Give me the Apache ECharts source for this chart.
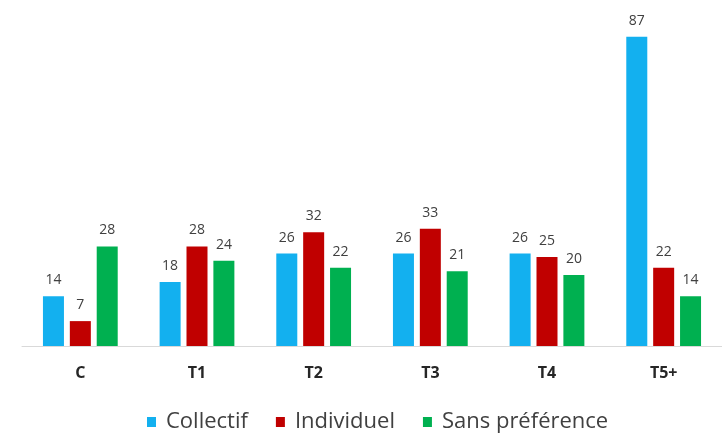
<!DOCTYPE html>
<html>
<head>
<meta charset="utf-8">
<script src="https://cdn.jsdelivr.net/npm/echarts@6/dist/echarts.min.js"></script>
<style>
  html, body { margin: 0; padding: 0; background: #fff; }
  #chart { width: 722px; height: 433px; }
</style>
</head>
<body>
<div id="chart"></div>
<script>
const categories = ['C', 'T1', 'T2', 'T3', 'T4', 'T5+']
const collectif = [14, 18, 26, 26, 26, 87]
const individuel = [7, 28, 32, 33, 25, 22]
const sansPreference = [28, 24, 22, 21, 20, 14]

const chart = echarts.init(document.getElementById('chart'))

const labelStyle = {
  show: true,
  position: 'top',
  distance: 9,
  color: '#404040',
  fontSize: 14,
  fontFamily: 'Open Sans'
}

const makeSeries = (name, data, color) => ({
  name,
  type: 'bar',
  data,
  barWidth: 21,
  barGap: '28%',
  itemStyle: { color },
  label: labelStyle
})

chart.setOption({
  animation: false,
  textStyle: { fontFamily: 'Open Sans' },
  legend: {
    top: 406,
    left: 142,
    itemWidth: 9,
    itemHeight: 10,
    itemGap: 28,
    icon: 'rect',
    textStyle: {
      fontSize: 22,
      color: '#404040',
      fontFamily: 'Open Sans',
      padding: [0, 0, 0, 5]
    },
    data: ['Collectif', 'Individuel', 'Sans préférence']
  },
  grid: {
    left: 22,
    width: 708,
    top: 26,
    bottom: 87
  },
  xAxis: {
    type: 'category',
    data: categories,
    axisLine: { lineStyle: { color: '#d9d9d9', width: 1 } },
    axisTick: { show: false },
    axisLabel: {
      margin: 19,
      fontSize: 16,
      fontWeight: 'bold',
      color: '#262626'
    }
  },
  yAxis: {
    type: 'value',
    min: 0,
    max: 90,
    show: false,
    splitLine: { show: false }
  },
  series: [
    makeSeries('Collectif', collectif, '#13B0EF'),
    makeSeries('Individuel', individuel, '#C00000'),
    makeSeries('Sans préférence', sansPreference, '#00B050')
  ]
})
</script>
</body>
</html>
